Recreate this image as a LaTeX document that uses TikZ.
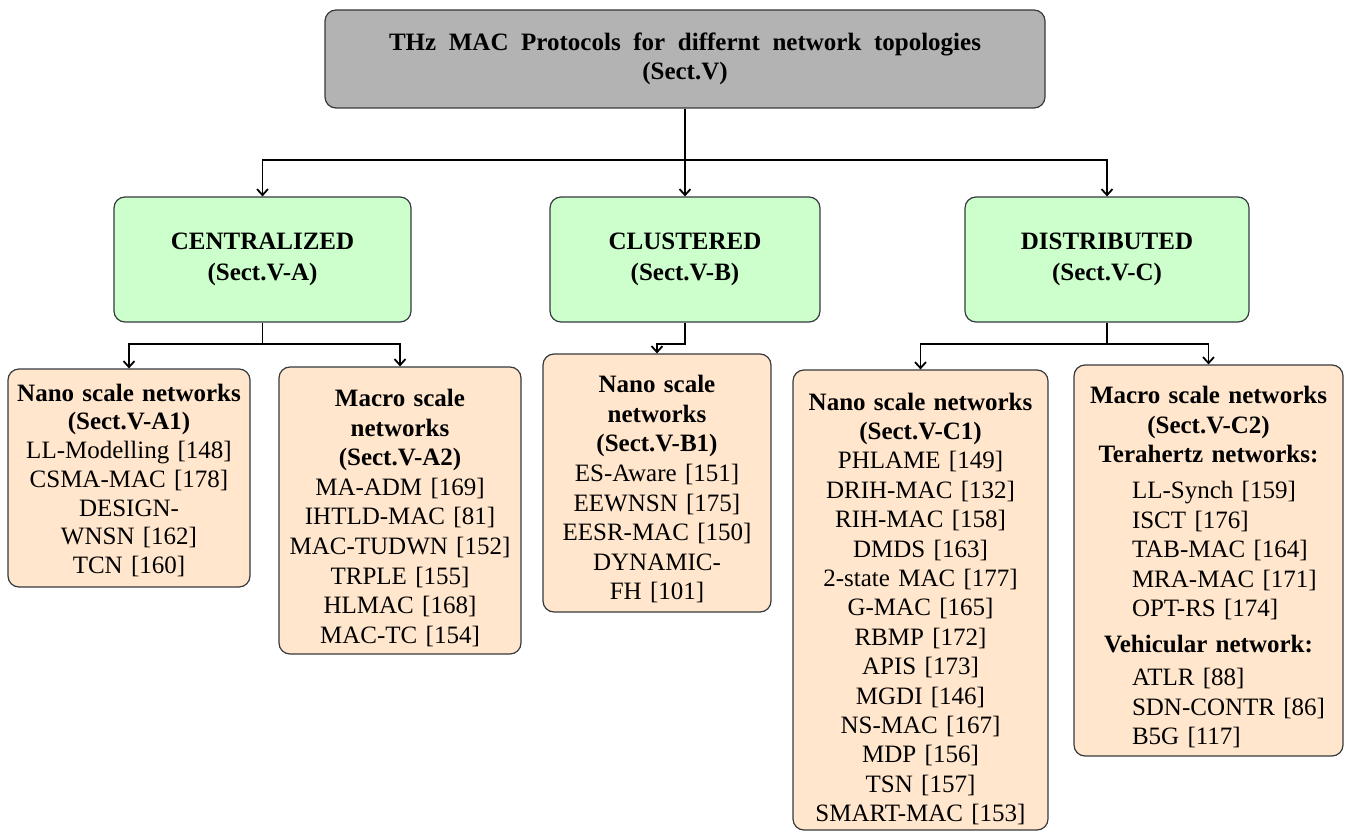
\documentclass[tikz,border=0pt]{standalone}
\usepackage{fontspec}
\setmainfont{Liberation Serif}
\usetikzlibrary{arrows.meta}

\definecolor{topgray}{HTML}{B3B3B3}
\definecolor{catgreen}{HTML}{CCFFCC}
\definecolor{leaforange}{HTML}{FFE6CC}
\definecolor{boxline}{HTML}{36393D}

% one protocol of an indented list
\newcommand{\protoitem}[1]{\makebox[153pt][l]{#1}\\}
% room above the first line of a box
\newcommand{\headroom}[1]{\rule{0pt}{#1}}

\begin{document}
\begin{tikzpicture}[x=1pt, y=-1pt, font=\fontsize{25}{29}\selectfont]
% Setup the styles for the boxes and the connectors
\tikzset{box style/.style={draw=boxline,
		line width=1.2pt,
		rounded corners=11pt,
		align=center,
		inner sep=0pt},
	top style/.style={box style, fill=topgray},
	cat style/.style={box style, fill=catgreen},
	leaf style/.style={box style, fill=leaforange},
	conn/.style={line width=1.8pt, -{Straight Barb[length=6pt,width=11pt]}}}
\useasboundingbox (0,0) rectangle (1346,832);

% Draw the root box
\node[top style, minimum width=720pt, minimum height=98pt] at (685, 59) (top)
	{\textbf{\makebox[592pt][s]{THz MAC Protocols for differnt network topologies}}\\\textbf{(Sect.V)}};

% Draw the topology boxes
\node[cat style, minimum width=297pt, minimum height=125pt] at (262.5, 259.5) (cent)
	{\textbf{CENTRALIZED}\\[2pt]\textbf{(Sect.V-A)}};
\node[cat style, minimum width=270pt, minimum height=125pt] at (685, 259.5) (clus)
	{\textbf{CLUSTERED}\\[2pt]\textbf{(Sect.V-B)}};
\node[cat style, minimum width=284pt, minimum height=125pt] at (1107, 259.5) (dist)
	{\textbf{DISTRIBUTED}\\[2pt]\textbf{(Sect.V-C)}};

% Draw the network boxes
\node[leaf style, text width=242pt, minimum height=218pt, font=\fontsize{25}{28.7}\selectfont] at (129, 478) (a1)
	{\headroom{22pt}\textbf{Nano scale networks}\\\textbf{(Sect.V-A1)}\\LL-Modelling [148]\\CSMA-MAC [178]\\DESIGN-\\WNSN [162]\\TCN [160]};
\node[leaf style, text width=242pt, minimum height=287pt, font=\fontsize{25}{29.6}\selectfont] at (400, 510.5) (a2)
	{\headroom{32pt}\textbf{Macro scale}\\\textbf{networks}\\\textbf{(Sect.V-A2)}\\MA-ADM [169]\\IHTLD-MAC [81]\\MAC-TUDWN [152]\\TRPLE [155]\\HLMAC [168]\\MAC-TC [154]};
\node[leaf style, text width=228pt, minimum height=258pt, font=\fontsize{25}{29.6}\selectfont] at (657, 483) (b1)
	{\headroom{30pt}\textbf{Nano scale}\\\textbf{networks}\\\textbf{(Sect.V-B1)}\\ES-Aware [151]\\EEWNSN [175]\\EESR-MAC [150]\\DYNAMIC-\\FH [101]};
\node[leaf style, text width=255pt, minimum height=460pt, font=\fontsize{25}{29.4}\selectfont] at (920.5, 600) (c1)
	{\headroom{35pt}\textbf{Nano scale networks}\\\textbf{(Sect.V-C1)}\\PHLAME [149]\\DRIH-MAC [132]\\RIH-MAC [158]\\DMDS [163]\\2-state MAC [177]\\G-MAC [165]\\RBMP [172]\\APIS [173]\\MGDI [146]\\NS-MAC [167]\\MDP [156]\\TSN [157]\\SMART-MAC [153]};
\node[leaf style, text width=269pt, minimum height=391pt, font=\fontsize{25}{29.5}\selectfont] at (1208.5, 560.5) (c2)
	{\headroom{31pt}\textbf{Macro scale networks}\\\textbf{(Sect.V-C2)}\\\textbf{Terahertz networks:}\\[6.5pt]
	\protoitem{LL-Synch [159]}\protoitem{ISCT [176]}\protoitem{TAB-MAC [164]}\protoitem{MRA-MAC [171]}\protoitem{OPT-RS [174]}[6.5pt]
	\textbf{Vehicular network:}\\[3.5pt]
	\protoitem{ATLR [88]}\protoitem{SDN-CONTR [86]}\makebox[153pt][l]{B5G [117]}};

% Connect the boxes with arrows
\foreach \n in {cent, clus, dist}
	\draw[conn] (top.south) -- ++(0, 51) -| (\n.north);
\foreach \n in {a1, a2}
	\draw[conn] (cent.south) -- ++(0, 21) -| (\n.north);
\draw[conn] (clus.south) -- ++(0, 21) -| (b1.north);
\foreach \n in {c1, c2}
	\draw[conn] (dist.south) -- ++(0, 21) -| (\n.north);
\end{tikzpicture}
\end{document}
